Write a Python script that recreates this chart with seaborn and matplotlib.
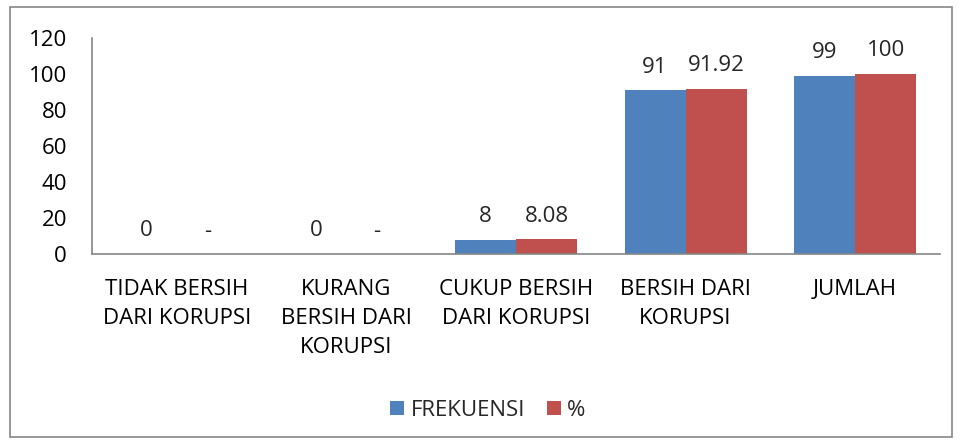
import matplotlib
matplotlib.use("Agg")
import matplotlib.pyplot as plt
import seaborn as sns
import pandas as pd
from matplotlib.patches import Rectangle

categories = ["TIDAK BERSIH\nDARI KORUPSI", "KURANG\nBERSIH DARI\nKORUPSI",
              "CUKUP BERSIH\nDARI KORUPSI", "BERSIH DARI\nKORUPSI", "JUMLAH"]
frekuensi = [0, 0, 8, 91, 99]
persen = [0, 0, 8.08, 91.92, 100]
frek_labels = ["0", "0", "8", "91", "99"]
persen_labels = ["-", "-", "8.08", "91.92", "100"]
series = ["FREKUENSI", "%"]
colors = ["#4F81BD", "#C0504D"]

df = pd.DataFrame({
    "cat": categories * 2,
    "val": frekuensi + persen,
    "series": [series[0]] * 5 + [series[1]] * 5,
})

sns.set_theme(style="white")
plt.rcParams["font.family"] = ["Open Sans", "DejaVu Sans"]

FS = 16

fig = plt.figure(figsize=(9.61, 4.43), dpi=100)
ax = fig.add_axes([92 / 961, 1 - 254 / 443, 848 / 961, 216 / 443])

sns.barplot(data=df, x="cat", y="val", hue="series", palette=colors,
            width=0.72, ax=ax, saturation=1, edgecolor="none")

for cont, labs in zip(ax.containers, [frek_labels, persen_labels]):
    ax.bar_label(cont, labels=labs, padding=9, fontsize=FS)

ax.set_ylim(0, 120)
ax.set_yticks(range(0, 121, 20))
ax.set_xlim(-0.5, 4.5)
ax.set_xlabel("")
ax.set_ylabel("")
for s in ["top", "right"]:
    ax.spines[s].set_visible(False)
for s in ["left", "bottom"]:
    ax.spines[s].set_color("#868686")
    ax.spines[s].set_linewidth(1.2)
ax.tick_params(axis="y", length=0, pad=18, labelsize=FS, colors="black")
ax.tick_params(axis="x", length=0, pad=18, labelsize=FS, colors="black")
for t in ax.get_xticklabels():
    t.set_linespacing(1.5)

leg = ax.legend(loc="center", bbox_to_anchor=(488 / 961, 1 - 410 / 443),
                bbox_transform=fig.transFigure, ncol=2, frameon=False,
                fontsize=FS, handlelength=0.6, handleheight=0.6,
                handletextpad=0.3, columnspacing=1.0)

fig.patches.append(Rectangle((10 / 961, 6 / 443), 942 / 961, 430 / 443,
                             transform=fig.transFigure, fill=False,
                             edgecolor="#868686", linewidth=1.2))

fig.savefig("out.png", dpi=100)
